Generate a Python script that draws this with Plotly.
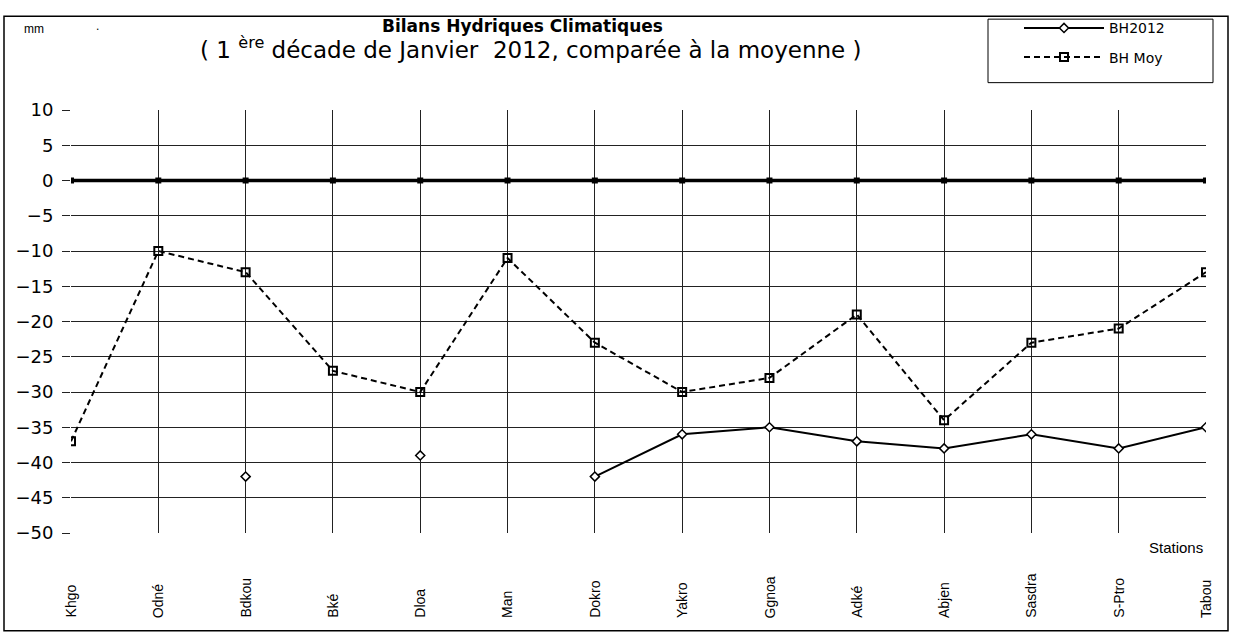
import plotly.graph_objects as go

stations = ["Khgo", "Odné", "Bdkou", "Bké", "Dloa", "Man", "Dokro", "Yakro",
            "Ggnoa", "Adké", "Abjen", "Sasdra", "S-Ptro", "Tabou"]
bh2012 = [None, None, -42, None, -39, None, -42, -36, -35, -37, -38, -36, -38, -35]
bh_moy = [-37, -10, -13, -27, -30, -11, -23, -30, -28, -19, -34, -23, -21, -13]
zero_line = [0] * len(stations)
y_ticks = list(range(-50, 11, 5))

W, H = 1233, 637
L, R, T, B = 71, 27, 100, 104
pw, ph = W - L - R, H - T - B


def px(x):
    return (x - L) / pw


def py(y):
    return (H - B - y) / ph


FONT = "Liberation Sans, Arial, sans-serif"
WIDE = "DejaVu Sans, sans-serif"

fig = go.Figure()
fig.add_trace(go.Scatter(
    x=stations, y=zero_line, mode="lines+markers", showlegend=False,
    line=dict(color="black", width=3.5),
    marker=dict(symbol="square", size=6, color="black"),
    hoverinfo="skip"))
fig.add_trace(go.Scatter(
    x=stations, y=bh2012, name="BH2012", mode="lines+markers",
    connectgaps=False, legendgroup="a",
    line=dict(color="black", width=2),
    marker=dict(symbol="diamond", size=7, color="white",
                line=dict(color="black", width=1.5))))
fig.add_trace(go.Scatter(
    x=stations, y=bh_moy, name="BH Moy", mode="lines+markers",
    legendgroup="b",
    line=dict(color="black", width=2, dash="6px,4px"),
    marker=dict(symbol="square-open", size=8, color="black",
                line=dict(width=2))))

annotations = []
for s in stations:
    annotations.append(dict(
        x=s, xref="x", y=py(622), yref="paper", text=s, textangle=-90,
        showarrow=False, xanchor="center", yanchor="bottom",
        font=dict(family=FONT, size=14, color="black")))

annotations += [
    dict(x=px(522), y=py(14), xref="paper", yref="paper",
         text="<b>Bilans Hydriques Climatiques</b>", showarrow=False,
         xanchor="center", yanchor="middle",
         font=dict(family=WIDE, size=17, color="black")),
    dict(x=px(530), y=py(37), xref="paper", yref="paper",
         text="( 1 <sup>ère</sup> décade de Janvier  2012, comparée à la moyenne )",
         showarrow=False, xanchor="center", yanchor="middle",
         font=dict(family=WIDE, size=23, color="black")),
    dict(x=px(34), y=py(17), xref="paper", yref="paper", text="mm",
         showarrow=False, xanchor="center", yanchor="middle",
         font=dict(family=FONT, size=12, color="black")),
    dict(x=px(97), y=py(14), xref="paper", yref="paper", text=".",
         showarrow=False, xanchor="center", yanchor="middle",
         font=dict(family=FONT, size=12, color="black")),
    dict(x=px(1176), y=py(548), xref="paper", yref="paper", text="Stations",
         showarrow=False, xanchor="center", yanchor="middle",
         font=dict(family=FONT, size=15, color="black")),
]

shapes = [
    dict(type="rect", xref="paper", yref="paper",
         x0=px(4), x1=px(1228), y0=py(633), y1=py(4),
         line=dict(color="black", width=1.5), fillcolor="rgba(0,0,0,0)",
         layer="below"),
    dict(type="rect", xref="paper", yref="paper",
         x0=px(988), x1=px(1213), y0=py(72), y1=py(7),
         line=dict(color="black", width=1), fillcolor="white",
         layer="below"),
]

fig.update_layout(
    width=W, height=H,
    margin=dict(l=L, r=R, t=T, b=B),
    paper_bgcolor="white", plot_bgcolor="white",
    font=dict(family=FONT, color="black"),
    showlegend=True,
    legend=dict(x=px(1019), y=py(0), xanchor="left", yanchor="top",
                borderwidth=0, bgcolor="rgba(0,0,0,0)",
                font=dict(family=WIDE, size=14, color="black"),
                itemwidth=80, tracegroupgap=8),
    annotations=annotations,
    shapes=shapes,
    xaxis=dict(type="category", range=[0, len(stations) - 1],
               showgrid=True, gridcolor="#222", gridwidth=1,
               showticklabels=False, ticks="", zeroline=False,
               showline=False),
    yaxis=dict(range=[-50, 10], tickvals=y_ticks, ticks="outside",
               ticklen=8, tickcolor="#222", showgrid=True,
               gridcolor="#222", gridwidth=1, zeroline=False,
               showline=False, ticklabelstandoff=5,
               tickfont=dict(family=WIDE, size=18, color="black")),
)

fig.write_html(
    "out.html",
    config={"displayModeBar": False},
    post_script=(
        "document.documentElement.style.margin='0';"
        "document.documentElement.style.height='637px';"
        "document.documentElement.style.overflow='hidden';"
        "document.body.style.margin='0';"
        "document.body.style.height='637px';"
        "document.body.style.overflow='hidden';"
        "var gd=document.getElementById('{plot_id}');"
        "gd.style.position='absolute';gd.style.left='0px';gd.style.top='0px';"
    ),
)
